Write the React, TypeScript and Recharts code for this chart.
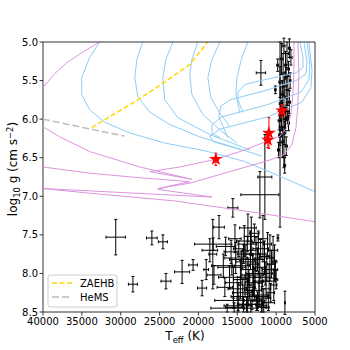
import { ScatterChart, Scatter, XAxis, YAxis, ErrorBar, Symbols } from "recharts";

const FONT = "DejaVu Sans, sans-serif";

const xTicks = [40000, 35000, 30000, 25000, 20000, 15000, 10000, 5000];
const yTicks = [5, 5.5, 6, 6.5, 7, 7.5, 8, 8.5];

// evolutionary tracks, [Teff, log g]
const pinkTrack1 = [[40000, 5.59], [38500, 5.41], [36950, 5.27], [35020, 5.14], [32700, 5.0]];
const pinkTrack2 = [
  [7710, 5.0], [7710, 5.36], [7840, 5.68], [8100, 5.94], [8610, 6.11], [9510, 6.22], [11060, 6.28],
  [14020, 6.4], [17760, 6.52], [22390, 6.62], [26260, 6.68], [20850, 6.78], [27550, 6.62],
  [33990, 6.42], [37850, 6.23], [40000, 6.1],
];
const pinkTrack3 = [
  [7190, 5.0], [7070, 5.42], [7190, 5.81], [7450, 6.11], [7970, 6.33], [9000, 6.46], [10800, 6.53],
  [15950, 6.68], [21100, 6.83], [24070, 6.88], [25230, 6.91], [18270, 7.01], [26260, 6.97],
  [33990, 6.93], [40000, 6.9],
];
const pinkTrack4 = [[40000, 6.62], [33990, 6.7], [27550, 6.76], [21100, 6.81], [25230, 6.9]];
const pinkTrack5 = [[40000, 6.9], [33990, 6.96], [23040, 7.06], [13380, 7.2], [5000, 7.33]];

const blueTrack1 = [
  [32700, 5.0], [33990, 5.2], [35020, 5.46], [35020, 5.68], [33990, 5.88], [32050, 6.04],
  [28830, 6.18], [24330, 6.31], [19170, 6.41], [14020, 6.55], [9510, 6.74], [5000, 6.94],
];
const blueTrack2 = [
  [27160, 5.0], [27930, 5.23], [28190, 5.46], [27800, 5.71], [26260, 5.91], [23680, 6.07],
  [19820, 6.23], [14280, 6.4], [11830, 6.48],
];
const blueTrack3 = [
  [23300, 5.0], [24200, 5.23], [24580, 5.46], [24330, 5.75], [22650, 5.98], [18530, 6.2], [13380, 6.4],
];
const blueTrack4 = [
  [20080, 5.0], [20850, 5.23], [21110, 5.42], [20850, 5.68], [19430, 5.94], [16980, 6.16], [15050, 6.31],
];
const blueTrack5 = [
  [17240, 5.0], [18270, 5.23], [18790, 5.46], [18400, 5.72], [17240, 5.92], [15950, 6.1],
];
const blueTrack6 = [[13640, 5.0], [14410, 5.2], [15050, 5.46], [15180, 5.68], [14670, 5.92]];
const blueTrack7 = [
  [6940, 5.0], [6550, 5.2], [6550, 5.33], [7450, 5.4], [11060, 5.48], [14020, 5.55],
  [14920, 5.65], [14920, 5.75], [14280, 5.91],
];
const blueTrack8 = [
  [6420, 5.0], [6030, 5.26], [6160, 5.41], [7190, 5.49], [11060, 5.62], [15950, 5.75],
  [17110, 5.83], [17370, 5.97], [16210, 6.24],
];
const blueTrack9 = [
  [6030, 5.0], [5650, 5.29], [5780, 5.49], [6810, 5.65], [11060, 5.81], [16980, 5.97],
  [18270, 6.07], [18270, 6.18], [17240, 6.24],
];
const blueTrack10 = [
  [5780, 5.0], [5390, 5.36], [5520, 5.59], [6680, 5.78], [11060, 5.97], [17240, 6.13],
  [18530, 6.22], [18140, 6.29], [14410, 6.4],
];

const zaehb = [[33730, 6.11], [30800, 5.93], [27930, 5.76], [24070, 5.5], [21100, 5.29], [18790, 5.0]];
const hems = [[40000, 6.0], [34800, 6.11], [29500, 6.22]];

// observed stars, [Teff, log g, err Teff, err log g]
const columnStars = [
  [9000, 5.05, 150, 0.1], [8300, 5.08, 120, 0.12], [8600, 5.15, 200, 0.15], [8100, 5.2, 150, 0.1],
  [9300, 5.22, 180, 0.2], [8800, 5.3, 150, 0.18], [8400, 5.35, 120, 0.1], [9100, 5.4, 200, 0.25],
  [8700, 5.45, 150, 0.12], [8200, 5.5, 100, 0.1], [9500, 5.52, 150, 0.2], [8900, 5.58, 200, 0.15],
  [8500, 5.62, 150, 0.2], [10100, 5.62, 100, 0.05], [9200, 5.68, 150, 0.18], [8700, 5.72, 120, 0.1],
  [8300, 5.78, 150, 0.15], [9400, 5.8, 200, 0.22], [9000, 5.85, 150, 0.15], [8600, 5.9, 150, 0.12],
  [9300, 5.95, 200, 0.2], [8800, 6.0, 150, 0.15], [9600, 6.02, 150, 0.12], [8400, 6.05, 120, 0.1],
  [9100, 6.1, 200, 0.18], [8900, 6.18, 150, 0.15], [9500, 6.22, 180, 0.12], [9200, 6.3, 150, 0.2],
  [8700, 6.35, 150, 0.12], [9700, 6.4, 120, 0.1], [9000, 6.48, 150, 0.15], [8900, 6.6, 120, 0.1],
  [9800, 5.3, 120, 0.08], [8500, 5.98, 150, 0.08],
];
const fieldStars = [
  [11960, 5.4, 600, 0.16], [9500, 6.2, 150, 1.2], [11450, 6.75, 900, 0.55], [12090, 6.98, 2450, 0.3],
  [15570, 7.15, 650, 0.12], [17350, 7.4, 690, 0.15], [13630, 7.41, 1070, 0.18], [9770, 7.54, 100, 0.04],
  [22100, 7.98, 970, 0.15], [20690, 7.89, 560, 0.07], [19530, 8.19, 580, 0.1], [18530, 7.7, 1000, 0.15],
  [18100, 7.62, 2400, 0.08], [18150, 7.75, 500, 0.45], [18000, 8.02, 900, 0.12], [30640, 7.53, 1250, 0.23],
  [25990, 7.54, 690, 0.09], [24570, 7.59, 580, 0.09], [28430, 8.14, 580, 0.1], [24180, 8.1, 640, 0.1],
  [8870, 8.38, 50, 0.15], [19000, 7.95, 300, 0.13],
];
const clusterStars = [
  [16500, 7.65, 1200, 0.12], [15800, 7.72, 900, 0.15], [15200, 7.8, 1500, 0.2], [14800, 7.68, 700, 0.1],
  [14500, 7.9, 1100, 0.18], [14200, 7.75, 800, 0.12], [13900, 7.85, 1300, 0.22], [13600, 7.95, 900, 0.15],
  [13300, 7.7, 1000, 0.25], [13000, 7.88, 700, 0.12], [12700, 8.0, 1200, 0.2], [12400, 7.82, 900, 0.15],
  [12100, 7.92, 800, 0.18], [11800, 8.05, 1000, 0.12], [11500, 7.78, 700, 0.2], [11200, 7.95, 600, 0.15],
  [10900, 8.1, 800, 0.22], [10600, 7.88, 500, 0.18], [16000, 8.05, 1400, 0.15], [15500, 8.12, 1000, 0.2],
  [15000, 8.2, 1200, 0.12], [14600, 8.08, 900, 0.25], [14300, 8.25, 1300, 0.18], [14000, 8.15, 800, 0.12],
  [13700, 8.3, 1100, 0.2], [13400, 8.18, 700, 0.15], [13100, 8.35, 1000, 0.12], [12800, 8.22, 900, 0.12],
  [12500, 8.4, 800, 0.08], [12200, 8.28, 1200, 0.15], [11900, 8.42, 700, 0.08], [11600, 8.32, 900, 0.12],
  [11300, 8.2, 600, 0.25], [11000, 8.38, 800, 0.1], [10700, 8.25, 500, 0.12], [15300, 7.55, 800, 0.18],
  [14100, 7.58, 1000, 0.2], [13200, 7.52, 900, 0.25], [12300, 7.6, 700, 0.15], [11700, 7.55, 600, 0.3],
  [16800, 7.9, 1500, 0.15], [16300, 8.45, 2100, 0.05], [14900, 8.42, 1800, 0.08], [13800, 8.4, 1200, 0.1],
  [13500, 8.05, 1500, 0.1], [15500, 8.35, 2400, 0.1], [12900, 8.12, 1100, 0.18], [12600, 7.75, 1300, 0.22],
  [11400, 8.0, 900, 0.15], [10300, 8.15, 400, 0.2], [10100, 7.95, 300, 0.12], [10400, 7.7, 600, 0.18],
  [12000, 7.68, 1000, 0.12], [13250, 8.45, 800, 0.05], [11800, 8.3, 700, 0.2], [14400, 7.82, 1600, 0.12],
  [15700, 7.92, 1800, 0.1], [12200, 8.1, 600, 0.3], [13600, 8.22, 500, 0.2], [14900, 8.3, 900, 0.18],
  [11100, 7.62, 500, 0.15], [12800, 7.48, 600, 0.12], [16600, 8.18, 1000, 0.12], [10800, 7.8, 400, 0.3],
  [13000, 8.02, 1400, 0.28], [12400, 8.36, 900, 0.12], [11600, 8.44, 700, 0.06], [14200, 8.4, 600, 0.1],
  [15400, 8.44, 1100, 0.06], [13700, 7.62, 1200, 0.1], [10200, 7.85, 300, 0.22], [10000, 8.08, 200, 0.12],
];
const redStars = [[17760, 6.52, 300, 0.08], [10930, 6.18, 250, 0.2], [11060, 6.27, 300, 0.1], [9250, 5.89, 250, 0.08]];

const blueTracks = [blueTrack1, blueTrack2, blueTrack3, blueTrack4, blueTrack5, blueTrack6, blueTrack7, blueTrack8, blueTrack9, blueTrack10];
const pinkTracks = [pinkTrack1, pinkTrack2, pinkTrack3, pinkTrack4, pinkTrack5];

const toXY = (arr: number[][]) => arr.map(([t, g]) => ({ t, g }));
const toPts = (arr: number[][]) => arr.map(([t, g, ex, ey]) => ({ t, g, ex, ey }));

const noDot = () => <g />;
const star = (p: any) => <Symbols cx={p.cx} cy={p.cy} type="star" size={58} fill="#ff0000" />;

const tickStyle = { fontSize: 10, fill: "#000", fontFamily: FONT };
const PINK = "#DC94DC";
const BLUE = "#8ECDF5";

export default function App() {
  const blackPts = toPts([...columnStars, ...fieldStars, ...clusterStars]);
  return (
    <div style={{ position: "absolute", left: 0, top: 0, width: 350, height: 350, background: "#fff" }}>
      <ScatterChart width={350} height={350} margin={{ top: 42, right: 35, bottom: 8, left: 8 }}>
        <XAxis
          type="number"
          dataKey="t"
          domain={[5000, 40000]}
          reversed
          allowDataOverflow
          ticks={xTicks}
          interval={0}
          height={30}
          tickSize={3.5}
          tickMargin={2.5}
          tick={tickStyle}
          axisLine={{ stroke: "#333" }}
          tickLine={{ stroke: "#333" }}
        />
        <YAxis
          type="number"
          dataKey="g"
          domain={[5, 8.5]}
          reversed
          allowDataOverflow
          ticks={yTicks}
          interval={0}
          width={35}
          tickSize={3.5}
          tickMargin={1.5}
          tickFormatter={(v: number) => v.toFixed(1)}
          tick={tickStyle}
          axisLine={{ stroke: "#333" }}
          tickLine={{ stroke: "#333" }}
        />
        {blueTracks.map((d, i) => (
          <Scatter key={"b" + i} data={toXY(d)} shape={noDot} line={{ stroke: BLUE, strokeWidth: 1 }} isAnimationActive={false} />
        ))}
        {pinkTracks.map((d, i) => (
          <Scatter key={"p" + i} data={toXY(d)} shape={noDot} line={{ stroke: PINK, strokeWidth: 1 }} isAnimationActive={false} />
        ))}
        <Scatter data={toXY(zaehb)} shape={noDot} line={{ stroke: "#FFD700", strokeWidth: 1.5, strokeDasharray: "5 2.5" }} isAnimationActive={false} />
        <Scatter data={toXY(hems)} shape={noDot} line={{ stroke: "#BBBBBB", strokeWidth: 1.5, strokeDasharray: "7 3" }} isAnimationActive={false} />
        <Scatter data={blackPts} shape={noDot} isAnimationActive={false}>
          <ErrorBar dataKey="ex" direction="x" width={1.5} stroke="#000" strokeWidth={1} />
          <ErrorBar dataKey="ey" direction="y" width={1.5} stroke="#000" strokeWidth={1} />
        </Scatter>
        <Scatter data={toPts(redStars)} shape={star} isAnimationActive={false}>
          <ErrorBar dataKey="ex" direction="x" width={1.5} stroke="#ff0000" strokeWidth={1} />
          <ErrorBar dataKey="ey" direction="y" width={1.5} stroke="#ff0000" strokeWidth={1} />
        </Scatter>
      </ScatterChart>
      <svg width={350} height={350} style={{ position: "absolute", left: 0, top: 0, pointerEvents: "none" }}>
        <line x1={43} y1={42} x2={315} y2={42} stroke="#333" strokeWidth={1} />
        <line x1={315} y1={42} x2={315} y2={312} stroke="#333" strokeWidth={1} />
        <text transform="translate(17,169) rotate(-90)" textAnchor="middle" fontSize={12} fontFamily={FONT} fill="#000">
          log<tspan fontSize={8.4} dy={2.5}>10</tspan>
          <tspan dy={-2.5}> g (cm s</tspan>
          <tspan fontSize={8.4} dy={-4.5}>−2</tspan>
          <tspan dy={4.5}>)</tspan>
        </text>
        <text x={185} y={340} textAnchor="middle" fontSize={12} fontFamily={FONT} fill="#000">
          T<tspan fontSize={8.4} dy={2.5}>eff</tspan>
          <tspan dy={-2.5}> (K)</tspan>
        </text>
        <rect x={48} y={275} width={69} height={32} rx={2} fill="#fff" fillOpacity={0.8} stroke="#ccc" strokeWidth={1} />
        <line x1={52} y1={283} x2={72} y2={283} stroke="#FFD700" strokeWidth={1.5} strokeDasharray="5 2.5" />
        <text x={80} y={286.5} fontSize={10} fontFamily={FONT} fill="#000">ZAEHB</text>
        <line x1={52} y1={297} x2={72} y2={297} stroke="#BBBBBB" strokeWidth={1.5} strokeDasharray="7 3" />
        <text x={80} y={300.5} fontSize={10} fontFamily={FONT} fill="#000">HeMS</text>
      </svg>
    </div>
  );
}
